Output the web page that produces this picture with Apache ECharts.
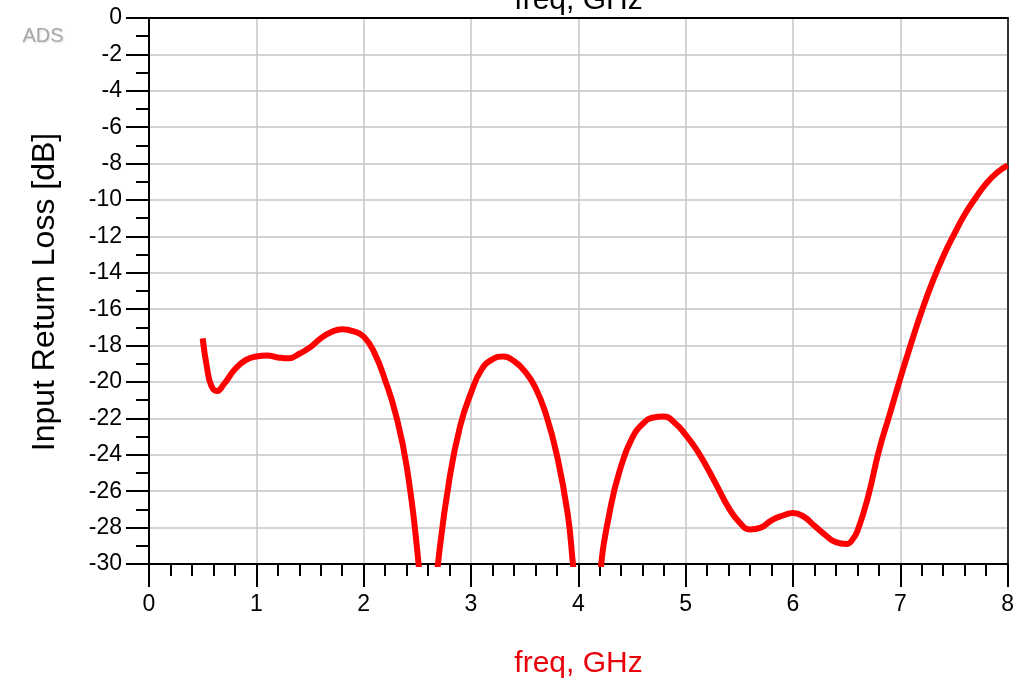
<!DOCTYPE html>
<html>
<head>
<meta charset="utf-8">
<script src="https://cdn.jsdelivr.net/npm/echarts@6/dist/echarts.min.js"></script>
<style>html,body{margin:0;padding:0;background:#fff;}#c{width:1017px;height:687px;}</style>
</head>
<body>
<div id="c"></div>
<script>
const freq = [0.5,0.54,0.58,0.63,0.7,0.8,0.9,1.0,1.1,1.2,1.3,1.4,1.5,1.6,1.7,1.8,1.9,2.0,2.1,2.2,2.3,2.4,2.5,2.55,2.6,2.65,2.7,2.8,2.9,3.0,3.1,3.2,3.3,3.4,3.5,3.6,3.7,3.8,3.9,3.95,4.0,4.05,4.1,4.15,4.2,4.3,4.4,4.5,4.6,4.7,4.8,4.9,5.0,5.1,5.2,5.3,5.4,5.5,5.6,5.7,5.8,5.9,6.0,6.1,6.2,6.3,6.4,6.5,6.55,6.6,6.7,6.8,6.9,7.0,7.1,7.2,7.3,7.4,7.5,7.6,7.7,7.8,7.9,8.0];
const returnLoss = [-17.6,-19.2,-20.2,-20.5,-20.1,-19.3,-18.8,-18.6,-18.55,-18.65,-18.7,-18.45,-18.1,-17.6,-17.25,-17.1,-17.2,-17.5,-18.4,-19.9,-21.8,-24.6,-29.3,-33,-40,-33,-29.6,-25.3,-22.4,-20.6,-19.3,-18.75,-18.6,-18.85,-19.4,-20.3,-21.8,-24.0,-27.2,-30,-33,-36,-40,-36,-30.8,-26.9,-24.6,-23.1,-22.3,-21.95,-21.9,-22.25,-22.9,-23.7,-24.7,-25.8,-26.9,-27.7,-28.1,-28.0,-27.6,-27.35,-27.2,-27.4,-27.9,-28.4,-28.8,-28.9,-28.7,-28.2,-26.3,-23.8,-21.8,-19.8,-17.9,-16.1,-14.5,-13.1,-11.9,-10.8,-9.9,-9.1,-8.5,-8.1];
const xTicks = [0,1,2,3,4,5,6,7,8];
const yTicks = [0,-2,-4,-6,-8,-10,-12,-14,-16,-18,-20,-22,-24,-26,-28,-30];
const titleText = 'freq, GHz';
const xName = 'freq, GHz';
const yName = 'Input Return Loss [dB]';

const FONT = "'Liberation Sans', Arial, sans-serif";
const chart = echarts.init(document.getElementById('c'));
chart.setOption({
  animation: false,
  backgroundColor: '#fff',
  grid: { left: 149, right: 9, top: 18, bottom: 123, containLabel: false },
  graphic: [
    { type: 'text', x: 578.5, y: 1, style: { text: titleText, font: '30px ' + FONT, fill: '#000', align: 'center', verticalAlign: 'middle' } },
    { type: 'text', x: 578.5, y: 664, style: { text: xName, font: '30px ' + FONT, fill: '#e8000b', align: 'center', verticalAlign: 'middle' } },
    { type: 'text', x: 45, y: 292, rotation: Math.PI / 2, style: { text: yName, font: '32px ' + FONT, fill: '#000', align: 'center', verticalAlign: 'middle' } },
    { type: 'text', x: 43, y: 36, style: { text: 'ADS', font: '20px ' + FONT, fill: '#a8a8a8', align: 'center', verticalAlign: 'middle', textShadowColor: '#dddddd', textShadowBlur: 2, textShadowOffsetX: 1, textShadowOffsetY: 1 } }
  ],
  xAxis: [{
    type: 'value', min: xTicks[0], max: xTicks[xTicks.length - 1], interval: 1,
    position: 'bottom',
    axisLine: { show: true, onZero: false, lineStyle: { color: '#000', width: 2 } },
    axisTick: { show: true, inside: false, length: 23, lineStyle: { color: '#000', width: 2 } },
    minorTick: { show: true, splitNumber: 5, length: 12, lineStyle: { color: '#000', width: 2 } },
    axisLabel: { fontSize: 23, color: '#000', fontFamily: FONT, margin: 29 },
    splitLine: { show: true, lineStyle: { color: '#c4c4c4', width: 1.5 } }
  }, {
    type: 'value', position: 'top', min: 0, max: 8,
    axisLine: { show: true, onZero: false, lineStyle: { color: '#000', width: 2 } },
    axisTick: { show: false }, axisLabel: { show: false }, splitLine: { show: false }
  }],
  yAxis: [{
    type: 'value', min: yTicks[yTicks.length - 1], max: yTicks[0], interval: 2,
    position: 'left',
    axisLine: { show: true, onZero: false, lineStyle: { color: '#000', width: 2 } },
    axisTick: { show: true, inside: false, length: 23, lineStyle: { color: '#000', width: 2 } },
    minorTick: { show: true, splitNumber: 2, length: 13, lineStyle: { color: '#000', width: 2 } },
    axisLabel: { fontSize: 23, color: '#000', fontFamily: FONT, margin: 27 },
    splitLine: { show: true, lineStyle: { color: '#c4c4c4', width: 1.5 } }
  }, {
    type: 'value', position: 'right', min: -30, max: 0,
    axisLine: { show: true, onZero: false, lineStyle: { color: '#333', width: 2 } },
    axisTick: { show: false }, axisLabel: { show: false }, splitLine: { show: false }
  }],
  series: [{
    type: 'line',
    xAxisIndex: 0, yAxisIndex: 0,
    data: freq.map((f, i) => [f, returnLoss[i]]),
    showSymbol: false,
    smooth: 0.5,
    clip: true,
    lineStyle: { color: '#f00', width: 6 },
    z: 5
  }]
});
</script>
</body>
</html>
